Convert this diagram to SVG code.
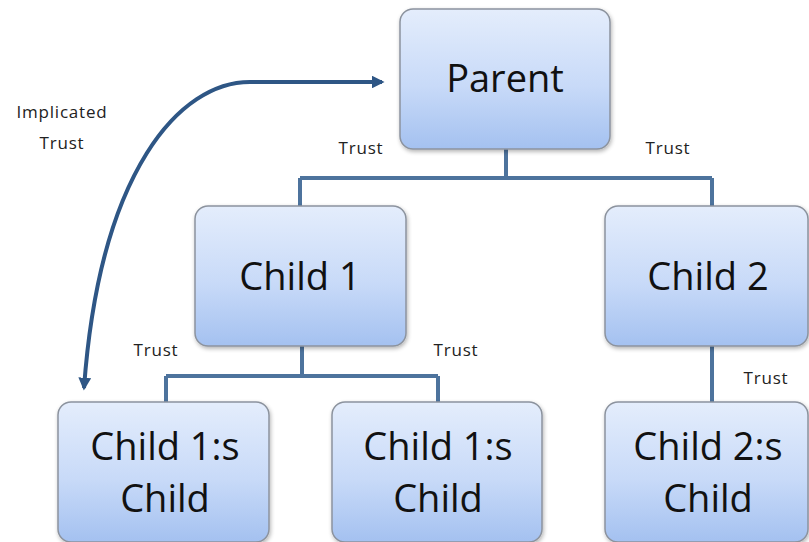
<svg xmlns="http://www.w3.org/2000/svg" width="809" height="542" viewBox="0 0 809 542">
<defs>
<linearGradient id="g" x1="0" y1="0" x2="0" y2="1">
<stop offset="0" stop-color="#e4edfc"/>
<stop offset="0.55" stop-color="#c8daf8"/>
<stop offset="1" stop-color="#a4c1f0"/>
</linearGradient>
<filter id="sh" x="-10%" y="-10%" width="125%" height="130%">
<feGaussianBlur in="SourceAlpha" stdDeviation="2"/>
<feOffset dx="1" dy="2" result="b"/>
<feComponentTransfer><feFuncA type="linear" slope="0.3"/></feComponentTransfer>
<feMerge><feMergeNode/><feMergeNode in="SourceGraphic"/></feMerge>
</filter>
<marker id="ah" viewBox="0 0 10 10" refX="8" refY="5" markerWidth="3.2" markerHeight="3.2" orient="auto-start-reverse" markerUnits="strokeWidth">
<path d="M0,0 L10,5 L0,10 z" fill="#2e5685"/>
</marker>
</defs>
<style>
.box{fill:url(#g);stroke:#8c939e;stroke-width:1.5;filter:url(#sh)}
.big{font-family:"Open Sans","Noto Sans",sans-serif;font-size:38px;fill:#111;text-anchor:middle}
.small{font-family:"Open Sans","Noto Sans",sans-serif;font-size:17px;fill:#222;text-anchor:middle;letter-spacing:0.8px}
.conn{fill:none;stroke:#4d739d;stroke-width:4}
</style>
<rect width="809" height="542" fill="#fff"/>
<g id="connectors">
<path class="conn" d="M506 149 V178 M300 178 H712 M300 178 V206 M712 178 V206"/>
<path class="conn" d="M302 346 V376 M166 376 H438 M166 376 V402 M438 376 V402"/>
<path class="conn" d="M712 346 V402"/>
<path d="M84 388 C100 170 180 82 250 82 L382 82" fill="none" stroke="#2e5685" stroke-width="4" marker-end="url(#ah)" marker-start="url(#ah)"/>
</g>
<g id="parent"><rect class="box" x="400" y="9" width="210" height="140" rx="13"/><text class="big" x="505" y="92">Parent</text></g>
<g id="child1"><rect class="box" x="195" y="206" width="211" height="140" rx="13"/><text class="big" x="300" y="290">Child 1</text></g>
<g id="child2"><rect class="box" x="605" y="206" width="203" height="140" rx="13"/><text class="big" x="708" y="290">Child 2</text></g>
<g id="child1a"><rect class="box" x="58" y="402" width="211" height="140" rx="13"/><text class="big" x="165" y="460">Child 1:s</text><text class="big" x="165" y="512">Child</text></g>
<g id="child1b"><rect class="box" x="332" y="402" width="210" height="140" rx="13"/><text class="big" x="438" y="460">Child 1:s</text><text class="big" x="438" y="512">Child</text></g>
<g id="child2a"><rect class="box" x="605" y="402" width="203" height="140" rx="13"/><text class="big" x="708" y="460">Child 2:s</text><text class="big" x="708" y="512">Child</text></g>
<g id="labels">
<text class="small" x="62" y="118">Implicated</text>
<text class="small" x="62" y="149">Trust</text>
<text class="small" x="361" y="154">Trust</text>
<text class="small" x="668" y="154">Trust</text>
<text class="small" x="156" y="356">Trust</text>
<text class="small" x="456" y="356">Trust</text>
<text class="small" x="766" y="384">Trust</text>
</g>
</svg>
